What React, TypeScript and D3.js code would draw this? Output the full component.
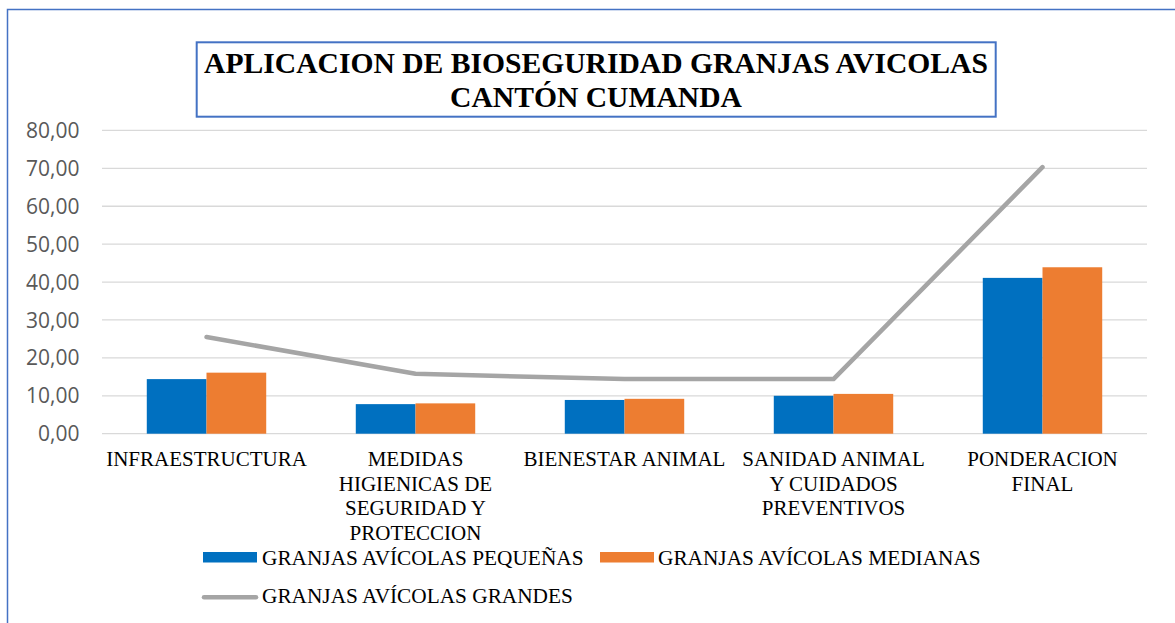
import { line, scaleBand, scaleLinear } from "d3";

const categories = [
  "INFRAESTRUCTURA",
  "MEDIDAS HIGIENICAS DE SEGURIDAD Y PROTECCION",
  "BIENESTAR ANIMAL",
  "SANIDAD ANIMAL Y CUIDADOS PREVENTIVOS",
  "PONDERACION FINAL",
];

// how Excel wrapped the category labels
const categoryLines = [
  ["INFRAESTRUCTURA"],
  ["MEDIDAS", "HIGIENICAS DE", "SEGURIDAD Y", "PROTECCION"],
  ["BIENESTAR ANIMAL"],
  ["SANIDAD ANIMAL", "Y CUIDADOS", "PREVENTIVOS"],
  ["PONDERACION", "FINAL"],
];

const pequenas = [14.4, 7.8, 8.9, 10.0, 41.1];
const medianas = [16.1, 8.0, 9.2, 10.5, 43.9];
const grandes = [25.5, 15.8, 14.4, 14.4, 70.3];

const barSeries = ["GRANJAS AVÍCOLAS PEQUEÑAS", "GRANJAS AVÍCOLAS MEDIANAS"];
const lineSeries = "GRANJAS AVÍCOLAS GRANDES";

const yTicks = [0, 10, 20, 30, 40, 50, 60, 70, 80];

const titleLines = ["APLICACION DE BIOSEGURIDAD GRANJAS AVICOLAS", "CANTÓN CUMANDA"];

const BLUE = "#0070C0";
const ORANGE = "#ED7D31";
const GRAY = "#A5A5A5";
const FRAME = "#4472C4";
const SERIF = "Liberation Serif, Tinos, DejaVu Serif, serif";
const SANS = "Open Sans, Liberation Sans, sans-serif";

export default function App() {
  const width = 1175;
  const height = 623;
  const plot = { left: 102, right: 1147, top: 130.4, bottom: 433.7 };

  const x = scaleBand<string>()
    .domain(categories)
    .range([plot.left, plot.right])
    .padding(0);

  const y = scaleLinear().domain([0, 80]).range([plot.bottom, plot.top]);

  // gap width 150% like the Excel default
  const bw = x.bandwidth();
  const barW = bw / 3.5;
  const xs = scaleBand<string>()
    .domain(barSeries)
    .range([(bw - 2 * barW) / 2, (bw + 2 * barW) / 2]);

  const barValues = [pequenas, medianas];
  const barColors = [BLUE, ORANGE];

  const linePath =
    line<number>()
      .x((_, i) => (x(categories[i]) ?? 0) + bw / 2)
      .y((d) => y(d))(grandes) ?? "";

  const titleCx = 596;
  const serif = { fontFamily: SERIF };

  return (
    <svg
      width={width}
      height={height}
      viewBox={`0 0 ${width} ${height}`}
      style={{ position: "absolute", left: 0, top: 0, display: "block", background: "#fff" }}
    >
      <rect x={7.5} y={9.5} width={1200} height={700} fill="#fff" stroke={FRAME} strokeWidth={1.5} />

      <g className="grid">
        {yTicks.map((t) => (
          <line
            key={`g-${t}`}
            x1={plot.left}
            x2={plot.right}
            y1={y(t)}
            y2={y(t)}
            stroke="#D9D9D9"
            strokeWidth={1.3}
          />
        ))}
      </g>

      <g className="y-axis" style={{ fontFamily: SANS }} fontSize={21} fill="#595959" textAnchor="end">
        {yTicks.map((t) => (
          <text key={`yl-${t}`} x={79.5} y={y(t) + 7.6}>
            {t.toFixed(2).replace(".", ",")}
          </text>
        ))}
      </g>

      <g className="bars">
        {barValues.map((vals, s) =>
          vals.map((v, i) => (
            <rect
              key={`b-${s}-${i}`}
              x={(x(categories[i]) ?? 0) + (xs(barSeries[s]) ?? 0)}
              y={y(v)}
              width={xs.bandwidth()}
              height={y(0) - y(v)}
              fill={barColors[s]}
            />
          )),
        )}
      </g>

      <path
        d={linePath}
        fill="none"
        stroke={GRAY}
        strokeWidth={4.5}
        strokeLinecap="round"
        strokeLinejoin="round"
      />

      <g className="x-axis" style={serif} fontSize={21} fill="#000" textAnchor="middle">
        {categoryLines.map((lines, i) =>
          lines.map((l, j) => (
            <text key={`xl-${i}-${j}`} x={(x(categories[i]) ?? 0) + bw / 2} y={466 + j * 24.5}>
              {l}
            </text>
          )),
        )}
      </g>

      <rect x={196.7} y={42.3} width={799} height={74.4} fill="#fff" stroke={FRAME} strokeWidth={2} />
      <g style={serif} fontWeight="bold" fontSize={29.6} fill="#000" textAnchor="middle">
        {titleLines.map((t, i) => (
          <text key={`t-${i}`} x={titleCx} y={73.3 + i * 34}>
            {t}
          </text>
        ))}
      </g>

      <g className="legend" style={serif} fontSize={21.3} fill="#000">
        <rect x={203} y={552} width={54} height={10.5} fill={BLUE} />
        <text x={262} y={565}>{barSeries[0]}</text>
        <rect x={600} y={552} width={54} height={10.5} fill={ORANGE} />
        <text x={658} y={565}>{barSeries[1]}</text>
        <line x1={204} x2={256} y1={597.3} y2={597.3} stroke={GRAY} strokeWidth={4.5} strokeLinecap="round" />
        <text x={262} y={603.3}>{lineSeries}</text>
      </g>
    </svg>
  );
}
